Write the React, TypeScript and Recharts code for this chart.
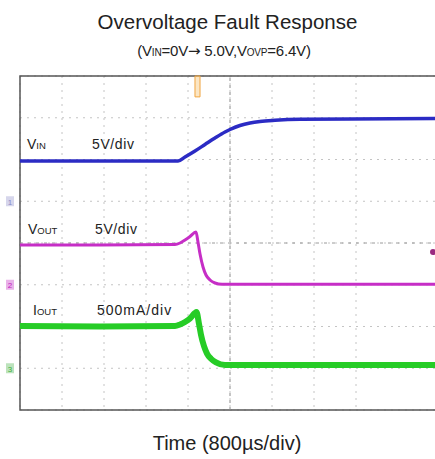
import React from "react";
import {
  LineChart,
  Line,
  XAxis,
  YAxis,
  CartesianGrid,
  ReferenceLine,
  ReferenceArea,
  ReferenceDot,
} from "recharts";

// time axis: 800us/div, 10 divisions
const timeTicks = [0, 800, 1600, 2400, 3200, 4000, 4800, 5600, 6400, 7200, 8000];

// VIN, 5V/div
const vinTime = [0, 1524, 2857, 3010, 3143, 3333, 3524, 3714, 3905, 4000, 4190, 4381, 4571, 4857, 5333, 6286, 8000];
const vinVolts = [-0.18, -0.18, -0.18, -0.18, 0.3, 1.02, 1.8, 2.57, 3.29, 3.59, 4.07, 4.37, 4.55, 4.69, 4.81, 4.85, 4.91];

// VOUT, 5V/div
const voutTime = [0, 1524, 2952, 3048, 3143, 3238, 3352, 3390, 3429, 3486, 3543, 3619, 3714, 3848, 8000];
const voutVolts = [4.76, 4.76, 4.82, 5.0, 5.36, 5.78, 6.32, 5.13, 3.68, 2.13, 1.17, 0.57, 0.21, 0.05, 0.05];

// IOUT, 500mA/div
const ioutTime = [0, 1524, 2952, 3048, 3143, 3238, 3333, 3362, 3410, 3448, 3505, 3562, 3638, 3733, 3905, 8000];
const ioutAmps = [0.506, 0.5, 0.506, 0.524, 0.554, 0.596, 0.662, 0.674, 0.53, 0.4, 0.264, 0.176, 0.114, 0.07, 0.039, 0.039];

const vinTicks = [-30, -25, -20, -15, -10, -5, 0, 5, 10];

const toRows = (t: number[], v: number[]) => t.map((time, i) => ({ time, value: v[i] }));

const ChannelMark = ({ viewBox, text, color }: any) => {
  if (!viewBox) return null;
  const x = 6;
  const y = viewBox.y;
  return (
    <g>
      <rect x={x} y={y - 5} width={8} height={10} fill={color} opacity={0.35} />
      <text x={x + 4} y={y + 3.5} fontSize={8} textAnchor="middle" fill={color}>
        {text}
      </text>
    </g>
  );
};

export default function App() {
  const vin = toRows(vinTime, vinVolts);
  const vout = toRows(voutTime, voutVolts);
  const iout = toRows(ioutTime, ioutAmps);

  return (
    <div
      style={{
        position: "absolute",
        top: 0,
        left: 0,
        width: 435,
        height: 459,
        overflow: "hidden",
        background: "#fff",
        fontFamily: "'Liberation Sans', Arial, sans-serif",
      }}
    >
      <LineChart width={445} height={459} margin={{ top: 76, right: 5, bottom: 49, left: 20 }}>
        <XAxis dataKey="time" type="number" domain={[0, 8000]} ticks={timeTicks} hide />
        <YAxis yAxisId="vin" type="number" domain={[-30, 10]} ticks={vinTicks} hide />
        <YAxis yAxisId="vout" type="number" domain={[-15, 25]} hide />
        <YAxis yAxisId="iout" type="number" domain={[-0.5, 3.5]} hide />
        <CartesianGrid yAxisId="vin" stroke="#c4c4c4" strokeDasharray="2 5" />
        <ReferenceLine x={4000} yAxisId="vin" stroke="#8a8a8a" strokeDasharray="3 4" />
        <ReferenceLine y={5} yAxisId="vout" stroke="#9a9a9a" strokeDasharray="3 5" />
        <ReferenceArea
          x1={0}
          x2={8000}
          y1={-30}
          y2={10}
          yAxisId="vin"
          fill="none"
          stroke="#555"
          strokeWidth={1.5}
        />
        <ReferenceLine
          y={-5}
          yAxisId="vin"
          stroke="none"
          label={<ChannelMark text="1" color="#8a8ac8" />}
        />
        <ReferenceLine
          y={0}
          yAxisId="vout"
          stroke="none"
          label={<ChannelMark text="2" color="#c020c0" />}
        />
        <ReferenceLine
          y={0}
          yAxisId="iout"
          stroke="none"
          label={<ChannelMark text="3" color="#40b040" />}
        />
        <ReferenceArea
          x1={3333}
          x2={3429}
          y1={22.5}
          y2={25}
          yAxisId="vout"
          fill="#f8cd8a"
          stroke="#f0a540"
          strokeWidth={1}
        />
        <ReferenceDot x={7867} y={3.92} yAxisId="vout" r={3} fill="#9a2a80" stroke="none" />
        <Line
          data={vin}
          yAxisId="vin"
          dataKey="value"
          type="monotone"
          stroke="#2b2bc4"
          strokeWidth={3.5}
          dot={false}
          isAnimationActive={false}
        />
        <Line
          data={vout}
          yAxisId="vout"
          dataKey="value"
          type="monotone"
          stroke="#c62ec6"
          strokeWidth={3}
          dot={false}
          isAnimationActive={false}
        />
        <Line
          data={iout}
          yAxisId="iout"
          dataKey="value"
          type="monotone"
          stroke="#26cc26"
          strokeWidth={6}
          dot={false}
          isAnimationActive={false}
        />
      </LineChart>

      <svg
        width={435}
        height={459}
        style={{ position: "absolute", top: 0, left: 0, pointerEvents: "none" }}
      >
        <text x={227.5} y={29} fontSize={20.5} textAnchor="middle" fill="#222">
          Overvoltage Fault Response
        </text>
        <text x={224} y={56} fontSize={15} textAnchor="middle" fill="#222" letterSpacing={-0.2}>
          (V<tspan fontSize={10}>IN</tspan>=0V
          <tspan fontFamily="'DejaVu Sans', sans-serif" fontSize={15}>→</tspan> 5.0V,V
          <tspan fontSize={10}>OVP</tspan>=6.4V)
        </text>

        <text x={27} y={149} fontSize={14} fill="#222">
          V<tspan fontSize={9.5}>IN</tspan>
        </text>
        <text x={92} y={149} fontSize={14} fill="#222" letterSpacing={0.6}>
          5V/div
        </text>

        <text x={28} y={234} fontSize={14} fill="#222">
          V<tspan fontSize={9.5}>OUT</tspan>
        </text>
        <text x={95} y={234} fontSize={14} fill="#222" letterSpacing={0.6}>
          5V/div
        </text>

        <text x={33} y={315} fontSize={14} fill="#222">
          I<tspan fontSize={9.5}>OUT</tspan>
        </text>
        <text x={97} y={315} fontSize={14} fill="#222" letterSpacing={1}>
          500mA/div
        </text>

        <text x={227} y={450} fontSize={20} textAnchor="middle" fill="#222">
          Time (800µs/div)
        </text>
      </svg>
    </div>
  );
}
